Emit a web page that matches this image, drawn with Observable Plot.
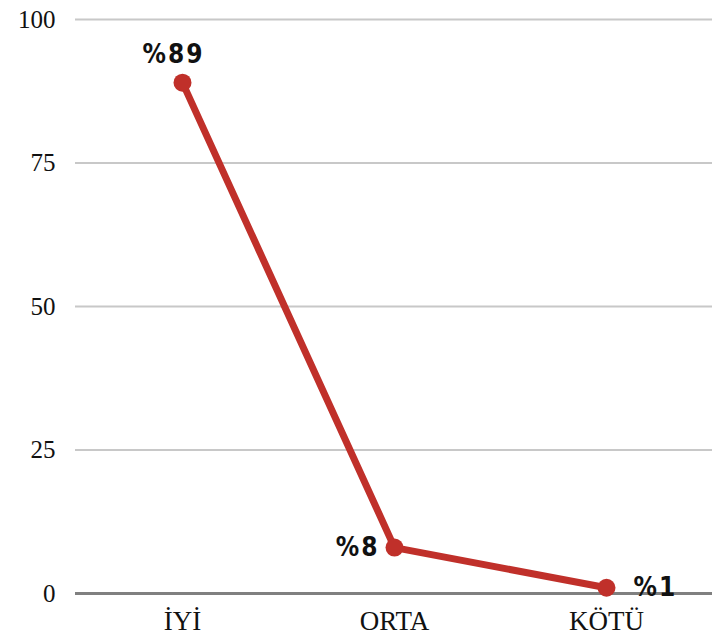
<!DOCTYPE html>
<html><head><meta charset="utf-8">
<script src="https://cdn.jsdelivr.net/npm/d3@7"></script>
<script src="https://cdn.jsdelivr.net/npm/@observablehq/plot@0.6"></script>
<style>body{margin:0;background:#fff}</style>
</head><body>
<div id="chart"></div>
<script>
const categories = ["İYİ", "ORTA", "KÖTÜ"];
const values = [89, 8, 1];
const labels = ["%89", "%8", "%1"];
const yTicks = [0, 25, 50, 75, 100];

const data = categories.map((c, i) => ({cat: c, v: values[i], label: labels[i]}));
const red = "#c0302a";
const labelFont = {fontFamily: "DejaVu Sans Condensed, DejaVu Sans", fontWeight: "bold", fontSize: 26, fill: "#111"};

const chart = Plot.plot({
  width: 722, height: 641,
  marginLeft: 75, marginRight: 10, marginTop: 19, marginBottom: 48,
  style: {fontFamily: "Liberation Serif, serif", fontSize: "26px", color: "#111", background: "#fff"},
  x: {type: "point", domain: categories, padding: 0.5, label: null},
  y: {domain: [0, 100], label: null},
  marks: [
    Plot.ruleY(yTicks.filter(t => t > 0), {stroke: "#c8c8c8", strokeWidth: 2}),
    Plot.ruleY([0], {stroke: "#808080", strokeWidth: 3}),
    Plot.axisY(yTicks, {tickSize: 0, tickPadding: 20, fontSize: 25, label: null}),
    Plot.axisX({tickSize: 0, tickPadding: 17, fontSize: 27, label: null}),
    Plot.line(data, {x: "cat", y: "v", stroke: red, strokeWidth: 7, strokeLinecap: "round", strokeLinejoin: "round"}),
    Plot.dot(data, {x: "cat", y: "v", r: 9, fill: red}),
    Plot.text([data[0]], {x: "cat", y: "v", text: "label", dx: -9, dy: -28, ...labelFont}),
    Plot.text([data[1]], {x: "cat", y: "v", text: "label", dx: -15, textAnchor: "end", ...labelFont}),
    Plot.text([data[2]], {x: "cat", y: "v", text: "label", dx: 27, textAnchor: "start", ...labelFont})
  ]
});
chart.querySelectorAll("text").forEach(t => {
  if (t.textContent.startsWith("%")) t.setAttribute("letter-spacing", "2");
});
document.getElementById("chart").append(chart);
</script>
</body></html>
